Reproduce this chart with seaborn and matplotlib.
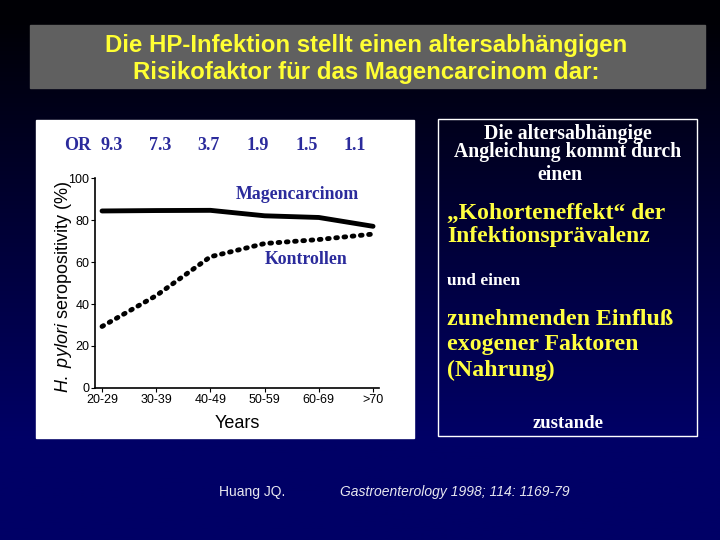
import matplotlib
matplotlib.use("Agg")
import matplotlib.pyplot as plt
import numpy as np
import pandas as pd
import seaborn as sns
from matplotlib.patches import Rectangle

# data
age_groups = ["20-29", "30-39", "40-49", "50-59", "60-69", ">70"]
magencarcinom = [84.3, 84.5, 84.6, 82.0, 81.2, 77.0]
kontrollen = [29.3, 44.0, 62.5, 68.8, 70.7, 73.3]
odds_ratios = ["9.3", "7.3", "3.7", "1.9", "1.5", "1.1"]
y_ticks = [0, 20, 40, 60, 80, 100]

title_lines = "Die HP-Infektion stellt einen altersabhängigen\nRisikofaktor für das Magencarcinom dar:"

sns.set_theme(style="white")
plt.rcParams["font.family"] = ["Liberation Sans", "DejaVu Sans"]
plt.rcParams["mathtext.fontset"] = "custom"
plt.rcParams["mathtext.it"] = "Liberation Sans:italic"
plt.rcParams["mathtext.rm"] = "Liberation Sans"

W, H = 720, 540
fig = plt.figure(figsize=(7.2, 5.4), dpi=100)

# slide background gradient
bg = fig.add_axes([0, 0, 1, 1])
grad = np.linspace(0, 1, 256)[:, None]
top = np.array([0.0, 0.0, 0.02])
bottom = np.array([0.0, 0.0, 0.40])
img = top + (bottom - top) * np.clip(grad * 1.3 - 0.05, 0, 1)[..., None]
bg.imshow(img, aspect="auto", extent=[0, W, H, 0])
bg.set_xlim(0, W)
bg.set_ylim(H, 0)
bg.axis("off")

# title box
bg.add_patch(Rectangle((30, 25), 675, 63, color="#606060", zorder=2))
bg.text(366, 59, title_lines, color="#ffff33", fontsize=17.3, fontweight="bold",
        ha="center", va="center", linespacing=1.25, zorder=3)

# white chart panel
bg.add_patch(Rectangle((36, 120), 378, 318, color="white", zorder=2))

# right text box
bg.add_patch(Rectangle((438, 119), 259, 317, fill=False, edgecolor="white", lw=1, zorder=2))
serif = ["Liberation Serif", "DejaVu Serif"]
bg.text(568, 143, "Die altersabhängige\nAngleichung kommt durch", color="white",
        fontsize=14.2, fontweight="bold", family=serif, ha="center", va="center",
        linespacing=0.92, zorder=3)
bg.text(560, 175, "einen", color="white", fontsize=14.2, fontweight="bold",
        family=serif, ha="center", va="center", zorder=3)
bg.text(447, 225, "\u201eKohorteneffekt\u201c der\nInfektionsprävalenz", color="#ffff40",
        fontsize=17, fontweight="bold", family=serif, ha="left", va="center",
        linespacing=1.18, zorder=3)
bg.text(447, 281, "und einen", color="white", fontsize=12.5, fontweight="bold",
        family=serif, ha="left", va="center", zorder=3)
bg.text(447, 345, "zunehmenden Einfluß\nexogener Faktoren\n(Nahrung)", color="#ffff40",
        fontsize=17.2, fontweight="bold", family=serif, ha="left", va="center",
        linespacing=1.25, zorder=3)
bg.text(568, 423, "zustande", color="white", fontsize=13.5, fontweight="bold",
        family=serif, ha="center", va="center", zorder=3)

# citation
bg.text(219, 492, "Huang JQ.", color="#e8e8f0", fontsize=10, ha="left", va="center")
bg.text(340, 492, "Gastroenterology 1998; 114: 1169-79", color="#e8e8f0", fontsize=10,
        style="italic", ha="left", va="center")

# chart axes: left 95, right 379, bottom 388, top 178 (px)
ax = fig.add_axes([95 / W, 1 - 388 / H, (379 - 95) / W, (388 - 178) / H])
ax.set_facecolor("white")

df = pd.DataFrame({
    "age": list(range(len(age_groups))) * 2,
    "value": magencarcinom + kontrollen,
    "group": ["Magencarcinom"] * len(age_groups) + ["Kontrollen"] * len(age_groups),
})
sns.lineplot(data=df[df.group == "Magencarcinom"], x="age", y="value", ax=ax,
             color="black", linewidth=3.5, solid_capstyle="round")
sns.lineplot(data=df[df.group == "Kontrollen"], x="age", y="value", ax=ax,
             color="black", linewidth=3.5, linestyle=(0, (0.35, 1.35)),
             dash_capstyle="round")

ax.set_xlim(-0.13, 5.11)
ax.set_ylim(0, 100)
ax.set_xticks(range(len(age_groups)))
ax.set_xticklabels(age_groups)
ax.set_yticks(y_ticks)
ax.tick_params(axis="both", labelsize=9, length=3, width=0.8, color="black",
               labelcolor="black", pad=1, bottom=True, left=True)
for side in ["top", "right"]:
    ax.spines[side].set_visible(False)
for side in ["left", "bottom"]:
    ax.spines[side].set_color("black")
    ax.spines[side].set_linewidth(1.2)
ax.set_xlabel("Years", fontsize=13, color="black", labelpad=7)
ax.set_ylabel(r"$\it{H.\ pylori}$ seropositivity (%)", fontsize=13, color="black")
ax.yaxis.set_label_coords(-0.075, 0.48)

blue = "#2b2b9c"
ax.text(-0.45, 115.5, "OR", color=blue, fontsize=13, fontweight="bold",
        family=serif, ha="center", va="center", clip_on=False)
for i, val in enumerate(odds_ratios):
    ax.text(i * 0.9 + 0.17, 115.5, val, color=blue, fontsize=13, fontweight="bold",
            family=serif, ha="center", va="center", clip_on=False)
ax.text(3.6, 92, "Magencarcinom", color=blue, fontsize=12.8, fontweight="bold",
        family=serif, ha="center", va="center")
ax.text(3.76, 61, "Kontrollen", color=blue, fontsize=12.8, fontweight="bold",
        family=serif, ha="center", va="center")

fig.savefig("out.png", dpi=100)
